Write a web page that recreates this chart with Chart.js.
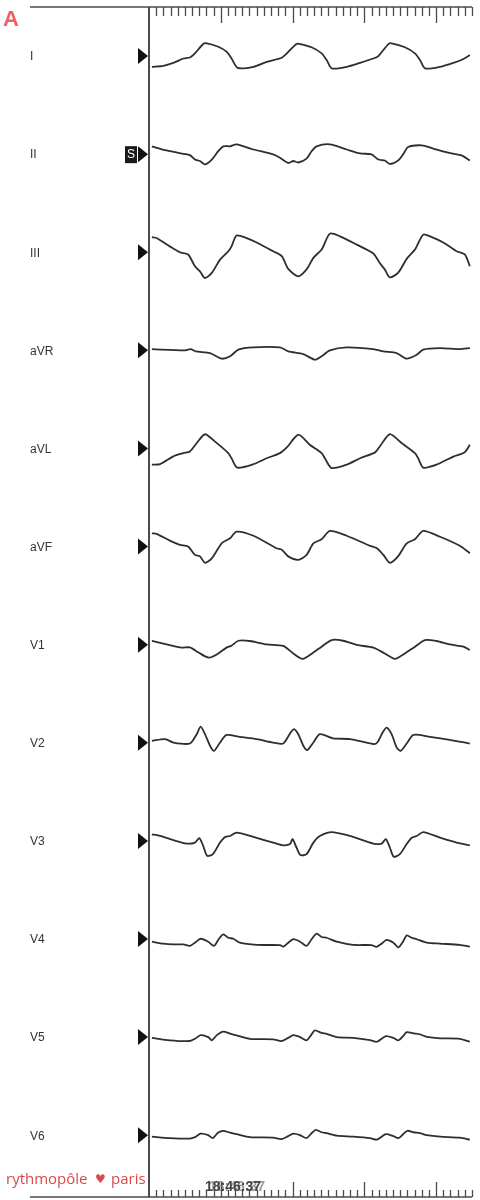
<!DOCTYPE html>
<html>
<head>
<meta charset="utf-8">
<script src="https://cdn.jsdelivr.net/npm/chart.js@4.4.0/dist/chart.umd.min.js"></script>
<style>
  html, body { margin: 0; padding: 0; background: #fff; }
  canvas { display: block; }
</style>
</head>
<body>
<canvas id="ecg" width="480" height="1200"></canvas>
<script>
var leadNames = ['I', 'II', 'III', 'aVR', 'aVL', 'aVF', 'V1', 'V2', 'V3', 'V4', 'V5', 'V6'];

var leadI = [[8,-0.22],[40,-0.2],[68,-0.14],[96,-0.05],[114,-0.03],[128,0.055],[151,0.245],[161,0.26],[193,0.19],[216,0.09],[230,-0.05],[247,-0.24],
  [291,-0.22],[328,-0.12],[370,-0.035],[384,0.055],[411,0.245],[421,0.245],[453,0.18],[481,0.055],[495,-0.08],[509,-0.25],
  [551,-0.22],[588,-0.14],[625,-0.05],[639,0],[667,0.245],[676,0.26],[713,0.18],[741,0.055],[755,-0.08],[769,-0.25],
  [811,-0.22],[848,-0.14],[876,-0.06],[894,0.02]];
var leadII = [[8,0.16],[49,0.075],[96,0.005],[114,-0.02],[128,-0.11],[142,-0.14],[156,-0.21],[175,-0.11],[193,0.06],[207,0.16],[226,0.16],[244,0.2],
  [291,0.095],[346,-0.005],[365,-0.075],[388,-0.18],[402,-0.14],[416,-0.17],[439,-0.09],[453,0.06],[467,0.16],[504,0.2],
  [551,0.095],[588,0.015],[620,-0.005],[639,-0.11],[657,-0.13],[671,-0.2],[694,-0.13],[708,-0.005],[722,0.145],[760,0.18],
  [792,0.115],[843,0.015],[871,-0.025],[894,-0.13]];
var leadIII = [[8,0.31],[21,0.29],[58,0.12],[86,0],[109,-0.045],[128,-0.285],[142,-0.39],[156,-0.525],[175,-0.42],[198,-0.15],[221,0.02],[230,0.12],[244,0.34],
  [272,0.29],[300,0.2],[346,0.02],[370,-0.08],[388,-0.34],[416,-0.49],[439,-0.35],[458,-0.115],[481,0.055],[504,0.38],
  [532,0.325],[579,0.155],[625,-0.025],[643,-0.22],[657,-0.35],[671,-0.51],[694,-0.42],[718,-0.135],[741,0.055],[764,0.36],
  [783,0.325],[820,0.2],[857,0.02],[880,-0.045],[894,-0.285]];
var leadAVR = [[8,0.025],[98,0],[116,0.025],[130,-0.02],[170,-0.055],[203,-0.17],[226,-0.12],[249,0.015],
  [291,0.06],[365,0.06],[388,-0.02],[430,-0.075],[462,-0.19],[481,-0.12],[504,0],
  [551,0.06],[625,0.025],[653,-0.02],[690,-0.055],[718,-0.17],[746,-0.09],[764,0.015],
  [811,0.045],[866,0.025],[894,0.045]];
var leadAVL = [[8,-0.33],[31,-0.32],[68,-0.16],[96,-0.095],[114,-0.06],[133,0.11],[156,0.29],[184,0.14],[221,-0.095],[230,-0.2],[246,-0.39],
  [291,-0.32],[328,-0.2],[365,-0.095],[384,0.02],[416,0.28],[448,0.075],[481,-0.095],[490,-0.2],[509,-0.4],
  [551,-0.33],[588,-0.2],[630,-0.08],[643,0.04],[671,0.29],[704,0.11],[741,-0.095],[750,-0.2],[764,-0.39],
  [801,-0.33],[848,-0.165],[880,-0.075],[894,0.075]];
var leadAVF = [[8,0.27],[21,0.26],[58,0.12],[86,0.035],[109,0],[128,-0.17],[142,-0.2],[156,-0.33],[175,-0.24],[203,0.07],[226,0.17],[244,0.305],
  [291,0.22],[355,-0.035],[370,-0.065],[388,-0.2],[416,-0.27],[439,-0.17],[458,0.065],[481,0.15],[504,0.32],
  [551,0.22],[616,0.015],[635,-0.035],[653,-0.17],[671,-0.33],[694,-0.2],[718,0.065],[741,0.15],[764,0.32],
  [811,0.2],[866,0.015],[894,-0.135]];
var leadV1 = [[8,0.075],[49,0.005],[91,-0.06],[114,-0.055],[138,-0.16],[166,-0.265],[189,-0.2],[216,-0.06],[230,-0.02],[249,0.08],
  [281,0.075],[328,0.005],[374,-0.025],[402,-0.18],[428,-0.29],[458,-0.16],[481,-0.04],[509,0.095],
  [541,0.08],[579,-0.005],[625,-0.06],[657,-0.18],[685,-0.29],[713,-0.18],[741,-0.04],[769,0.095],
  [801,0.075],[838,0.005],[876,-0.04],[894,-0.11]];
var leadV2 = [[8,0.04],[45,0.075],[68,0.005],[114,-0.015],[133,0.175],[144,0.33],[156,0.175],[170,-0.06],[181,-0.165],[198,0.005],[216,0.16],
  [253,0.12],[300,0.075],[346,0.005],[374,-0.015],[393,0.19],[404,0.28],[416,0.175],[430,-0.06],[441,-0.15],[458,0.005],[476,0.175],
  [513,0.09],[560,0.075],[625,-0.025],[636,0.005],[651,0.21],[662,0.31],[676,0.175],[690,-0.095],[701,-0.165],[718,-0.015],[737,0.16],
  [783,0.12],[838,0.06],[894,-0.015]];
var leadV3 = [[8,0.135],[31,0.1],[68,0.015],[105,-0.055],[128,-0.035],[140,0.055],[151,-0.1],[162,-0.305],[178,-0.27],[198,-0.035],[212,0.08],[226,0.1],[244,0.17],
  [291,0.08],[346,-0.035],[374,-0.09],[393,-0.065],[400,0.035],[411,-0.135],[422,-0.29],[439,-0.27],[458,-0.035],[476,0.1],[509,0.18],
  [560,0.1],[625,-0.055],[648,-0.055],[660,0.035],[671,-0.135],[682,-0.325],[699,-0.27],[718,-0.065],[732,0.065],[746,0.1],[764,0.18],
  [811,0.065],[857,-0.035],[894,-0.09]];
var leadV4 = [[8,-0.055],[40,-0.095],[68,-0.11],[96,-0.11],[114,-0.14],[128,-0.075],[144,0.005],[165,-0.055],[181,-0.14],[195,0.005],[207,0.095],[221,0.025],[235,0.005],
  [253,-0.075],[300,-0.12],[365,-0.125],[374,-0.155],[388,-0.075],[402,-0.005],[421,-0.055],[439,-0.14],[453,-0.005],[467,0.11],[481,0.04],[495,0.025],
  [523,-0.055],[569,-0.12],[620,-0.125],[634,-0.16],[648,-0.095],[662,-0.02],[681,-0.075],[695,-0.17],[709,-0.04],[718,0.075],[732,0.025],[746,-0.005],
  [774,-0.075],[811,-0.095],[866,-0.12],[894,-0.16]];
var leadV5 = [[8,-0.015],[58,-0.065],[114,-0.08],[128,-0.035],[144,0.04],[165,0],[175,-0.065],[189,0.04],[207,0.11],[226,0.07],[244,0.035],
  [281,-0.035],[346,-0.045],[370,-0.08],[388,-0.015],[402,0.04],[421,0],[439,-0.065],[453,0.055],[462,0.135],[481,0.085],[495,0.065],
  [523,0],[569,-0.015],[616,-0.06],[635,-0.095],[660,0.02],[681,-0.015],[695,-0.065],[708,0.02],[718,0.1],[737,0.075],[755,0.055],
  [774,0.005],[811,-0.025],[866,-0.035],[894,-0.095]];
var leadV6 = [[8,-0.03],[58,-0.06],[114,-0.07],[128,-0.04],[144,0.03],[165,0],[178,-0.06],[192,0.05],[207,0.09],[226,0.05],[244,0.02],
  [281,-0.04],[346,-0.05],[370,-0.08],[388,-0.02],[402,0.03],[421,0],[439,-0.06],[453,0.04],[465,0.11],[481,0.06],[495,0.04],
  [523,-0.01],[569,-0.03],[616,-0.06],[635,-0.09],[660,0.02],[681,-0.02],[695,-0.06],[708,0.02],[720,0.09],[737,0.06],[755,0.04],
  [774,0],[811,-0.03],[866,-0.05],[894,-0.09]];

var leads = [leadI, leadII, leadIII, leadAVR, leadAVL, leadAVF, leadV1, leadV2, leadV3, leadV4, leadV5, leadV6];

var timeLabel = '18:46:37';
var leadGap = 2;      // mV between two baselines
var minorTick = 20;   // ms
var majorTick = 200;  // ms

var datasets = leads.map(function (pts, i) {
  return {
    label: leadNames[i],
    data: pts.map(function (p) { return { x: p[0], y: p[1] - leadGap * i }; }),
    borderColor: '#2e2e2e',
    borderWidth: 1.8,
    pointRadius: 0,
    tension: 0.25,
    fill: false
  };
});

// frame, time ticks, lead names and markers, and the text around the chart
var frame = {
  id: 'frame',
  afterDraw: function (chart) {
    var ctx = chart.ctx;
    var a = chart.chartArea;
    var xs = chart.scales.x;
    var ys = chart.scales.y;
    ctx.save();

    ctx.strokeStyle = '#4a4a4a';
    ctx.lineWidth = 1.5;
    ctx.beginPath();
    ctx.moveTo(30, a.top); ctx.lineTo(a.right, a.top);
    ctx.moveTo(30, a.bottom); ctx.lineTo(a.right, a.bottom);
    ctx.stroke();
    ctx.lineWidth = 2;
    ctx.beginPath();
    ctx.moveTo(a.left, a.top); ctx.lineTo(a.left, a.bottom);
    ctx.stroke();

    ctx.lineWidth = 1.3;
    ctx.beginPath();
    for (var t = minorTick; t <= xs.max; t += minorTick) {
      var px = Math.round(xs.getPixelForValue(t)) + 0.5;
      var big = t % majorTick === 0;
      ctx.moveTo(px, a.top); ctx.lineTo(px, a.top + (big ? 16 : 9));
      ctx.moveTo(px, a.bottom); ctx.lineTo(px, a.bottom - (big ? 15 : 7));
    }
    ctx.stroke();

    ctx.textAlign = 'left';
    ctx.textBaseline = 'middle';
    ctx.font = '12px "Liberation Sans", Arial, sans-serif';
    leadNames.forEach(function (n, i) {
      var py = ys.getPixelForValue(-leadGap * i);
      ctx.fillStyle = '#333';
      ctx.fillText(n, 30, py + 1);
      ctx.fillStyle = '#111';
      ctx.beginPath();
      ctx.moveTo(a.left - 11, py - 8);
      ctx.lineTo(a.left - 1, py);
      ctx.lineTo(a.left - 11, py + 8);
      ctx.closePath();
      ctx.fill();
    });

    // "S" flag on lead II
    var sy = ys.getPixelForValue(-leadGap);
    ctx.fillStyle = '#1a1a1a';
    ctx.fillRect(a.left - 24, sy - 8, 12, 17);
    ctx.fillStyle = '#fff';
    ctx.textAlign = 'center';
    ctx.fillText('S', a.left - 18, sy + 1);

    // time stamp
    ctx.textAlign = 'left';
    ctx.textBaseline = 'alphabetic';
    ctx.font = 'bold 14px "Liberation Sans", Arial, sans-serif';
    ctx.fillStyle = 'rgba(90,90,90,0.6)';
    ctx.fillText(timeLabel, 209, a.bottom - 6);
    ctx.fillStyle = '#444';
    ctx.fillText(timeLabel, 205, a.bottom - 6);

    // panel letter and logo
    ctx.fillStyle = '#f26161';
    ctx.font = 'bold 22px "Liberation Sans", Arial, sans-serif';
    ctx.fillText('A', 3, 26);
    ctx.fillStyle = '#d84a4a';
    ctx.font = '15px "Open Sans", sans-serif';
    ctx.fillText('rythmop\u00f4le', 6, a.bottom - 13);
    ctx.fillText('paris', 111, a.bottom - 13);
    ctx.font = '12px "DejaVu Sans", sans-serif';
    ctx.fillText('\u2665', 95, a.bottom - 14);
    ctx.restore();
  }
};

new Chart(document.getElementById('ecg'), {
  type: 'line',
  data: { datasets: datasets },
  options: {
    responsive: false,
    animation: false,
    layout: { padding: { left: 149, top: 7, right: 8, bottom: 3 } },
    plugins: { legend: { display: false }, tooltip: { enabled: false } },
    scales: {
      x: { type: 'linear', min: 0, max: 900, display: false },
      y: { type: 'linear', min: -23.26, max: 1.0, display: false }
    }
  },
  plugins: [frame]
});
</script>
</body>
</html>
